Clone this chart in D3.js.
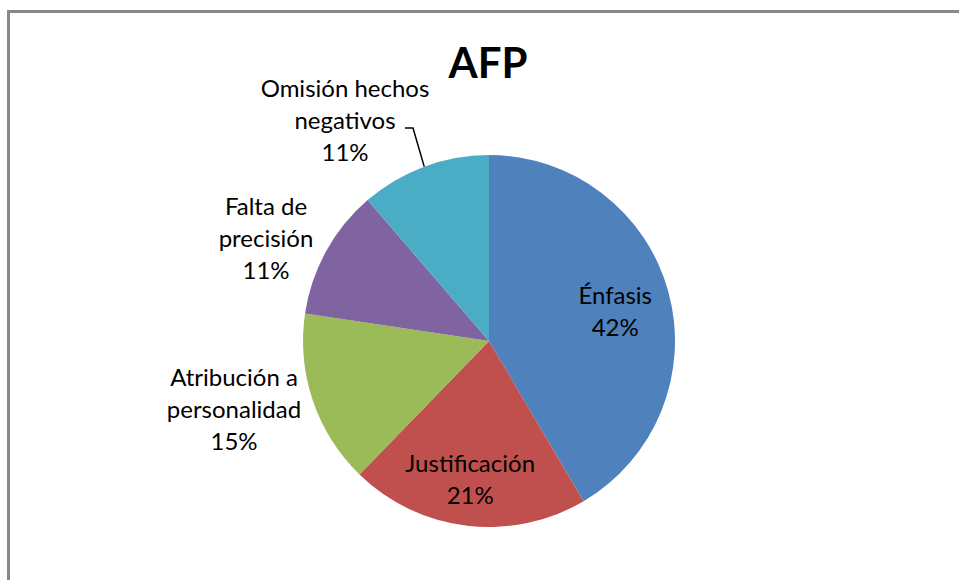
<!DOCTYPE html>
<html>
<head>
<meta charset="utf-8">
<script src="https://cdn.jsdelivr.net/npm/d3@7"></script>
<style>
	body { margin: 0; background: #fff; }
	text { font-family: Lato, "Open Sans", sans-serif; fill: #000; }
</style>
</head>
<body>
<div class="chart"></div>
<script>
// values (slice sizes fit 22/11/8/6/6 of 53)
const categories = ['Énfasis', 'Justificación', 'Atribución a personalidad', 'Falta de precisión', 'Omisión hechos negativos'];
const labelLines = [['Énfasis'], ['Justificación'], ['Atribución a', 'personalidad'], ['Falta de', 'precisión'], ['Omisión hechos', 'negativos']];
const counts = [22, 11, 8, 6, 6];
const colors = ['#4f81bd', '#c0504d', '#9bbb59', '#8064a2', '#4bacc6'];

const width = 959;
const height = 580;
const cx = 489;
const cy = 341;
const radius = 186;
const lineH = 32;

const total = d3.sum(counts);

// outside label centres (relative to pie centre), as Excel placed them
const outsideOffsets = {
	2: [-255, 69],
	3: [-223, -102],
	4: [-144, -220]
};

const svg = d3.select('.chart').append('svg')
	.attr('width', width)
	.attr('height', height);

svg.append('rect')
	.attr('x', 8.5)
	.attr('y', 11.5)
	.attr('width', 1000)
	.attr('height', 1000)
	.attr('fill', 'none')
	.attr('stroke', '#888')
	.attr('stroke-width', 3);

svg.append('text')
	.text('AFP')
	.attr('x', 488)
	.attr('y', 78)
	.attr('text-anchor', 'middle')
	.attr('font-size', 42)
	.attr('font-weight', 'bold');

const pie = d3.pie().sort(null).value(d => d);
const arcs = pie(counts);
const arc = d3.arc().innerRadius(0).outerRadius(radius);
const inner = d3.arc().innerRadius(radius * 0.72).outerRadius(radius * 0.72);

const g = svg.append('g').attr('transform', `translate(${cx},${cy})`);

g.selectAll('.slice')
	.data(arcs)
	.enter()
	.append('path')
	.attr('d', arc)
	.attr('fill', (d, i) => colors[i])
	.attr('class', 'slice');

// leader line for the top-left label
const omi = arcs[4];
const mid = (omi.startAngle + omi.endAngle) / 2;
const ex = radius * Math.sin(mid);
const ey = -radius * Math.cos(mid);
g.append('path')
	.attr('d', `M${405 - cx},${128 - cy}H${413 - cx}L${ex},${ey}`)
	.attr('fill', 'none')
	.attr('stroke', '#000')
	.attr('stroke-width', 1.5);

arcs.forEach(function(d, i) {
	let pos;
	if (outsideOffsets[i]) {
		pos = outsideOffsets[i];
	} else {
		const c = inner.centroid(d);
		pos = [c[0] - 3, c[1] + 6];
	}
	const pct = Math.round(counts[i] / total * 100);
	const lines = labelLines[i].concat([`${pct}%`]);
	const top = pos[1] - (lines.length - 1) * lineH / 2;
	const t = g.append('text')
		.attr('text-anchor', 'middle')
		.attr('font-size', 24);
	lines.forEach(function(l, k) {
		t.append('tspan')
			.attr('x', pos[0])
			.attr('y', top + k * lineH + 8)
			.text(l);
	});
});
</script>
</body>
</html>
